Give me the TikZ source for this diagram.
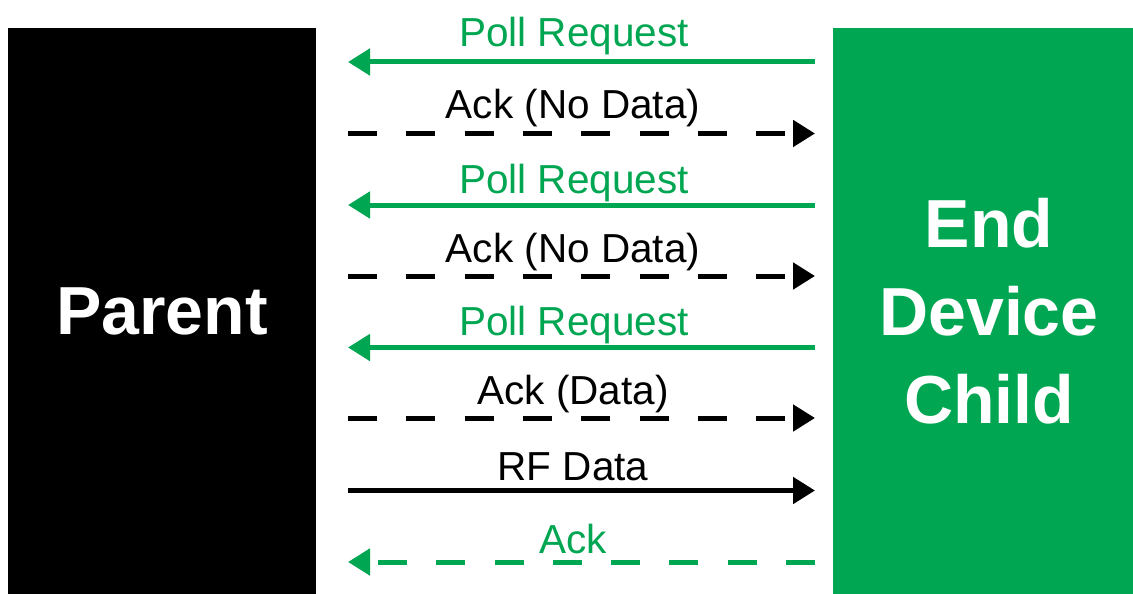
\documentclass[tikz,border=0pt]{standalone}
\usepackage{fontspec}
\setmainfont{Liberation Sans}
\usetikzlibrary{arrows.meta}
\definecolor{zgreen}{RGB}{0,166,81}
\tikzset{
  box/.style={draw=none, minimum width=#1, inner sep=0pt, outer sep=0pt, anchor=north west},
  bigtxt/.style={text=white, font=\fontsize{68}{88}\selectfont\bfseries, align=center, inner sep=0pt},
  lbl/.style={font=\fontsize{40.5}{48}\selectfont, anchor=base, inner sep=0pt},
  msg/.style={line width=5pt, -{Triangle[length=22pt,width=26pt]}},
  dsh/.style={dash pattern=on 29pt off 29.3pt},
}
\begin{document}
\begin{tikzpicture}[x=1pt,y=-1pt]
\useasboundingbox (0,0) rectangle (1133,594);
\node[box=308pt, minimum height=566pt, fill=black] (parent) at (8,28) {};
\node[box=300pt, minimum height=566pt, fill=zgreen] (child) at (833,28) {};
\node[bigtxt] (parentlbl) at (parent.center) {Parent};
\node[bigtxt, xshift=6pt] (childlbl) at (child.center) {End\\Device\\Child};
% row end points
\foreach \i/\y in {1/62,2/133.5,3/205,4/276,5/347.5,6/418,7/490.5,8/562}{
  \coordinate (L\i) at (348,\y);
  \coordinate (R\i) at (815,\y);
}
% messages
\draw[msg, zgreen] (R1) -- (L1);
\draw[msg, black, dsh] (L2) -- (R2);
\draw[msg, zgreen] (R3) -- (L3);
\draw[msg, black, dsh] (L4) -- (R4);
\draw[msg, zgreen] (R5) -- (L5);
\draw[msg, black, dsh] (L6) -- (R6);
\draw[msg, black] (L7) -- (R7);
\draw[msg, zgreen, dsh] (R8) -- (L8);
% labels
\node[lbl, text=zgreen] (t1) at (574,47) {Poll Request};
\node[lbl] (t2) at (573,118) {Ack (No Data)};
\node[lbl, text=zgreen] (t3) at (574,193) {Poll Request};
\node[lbl] (t4) at (573,262) {Ack (No Data)};
\node[lbl, text=zgreen] (t5) at (574,335) {Poll Request};
\node[lbl] (t6) at (573,404) {Ack (Data)};
\node[lbl] (t7) at (573,480) {RF Data};
\node[lbl, text=zgreen] (t8) at (573,553) {Ack};
\end{tikzpicture}
\end{document}
